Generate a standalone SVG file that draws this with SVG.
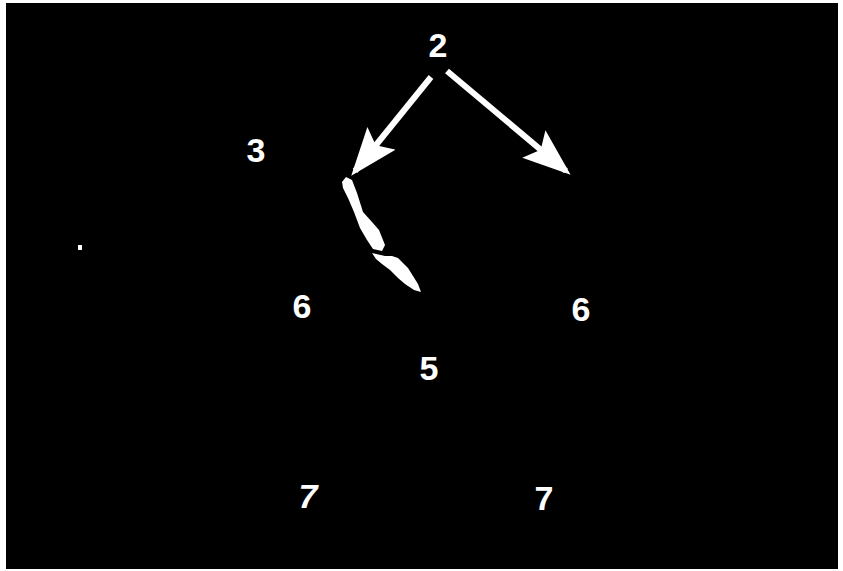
<svg xmlns="http://www.w3.org/2000/svg" width="843" height="571" viewBox="0 0 843 571">
<defs>
<style>
.lbl{font-family:"Liberation Sans",Arial,sans-serif;font-weight:bold;font-size:34px;fill:#fff;text-anchor:middle}
.shaft{stroke:#fff;stroke-width:6;fill:none}
</style>
<marker id="ah" markerWidth="8" markerHeight="6" refX="7" refY="3" orient="auto" markerUnits="strokeWidth">
<path d="M0,0 L8,3 L0,6 L1.5,3 Z" fill="#fff"/>
</marker>
</defs>
<rect x="0" y="0" width="843" height="571" fill="#fff"/>
<rect x="6" y="3" width="832" height="566" fill="#000"/>
<g id="connectors">
<line class="shaft" x1="431" y1="77" x2="355" y2="171" marker-end="url(#ah)"/>
<line class="shaft" x1="447" y1="71" x2="566" y2="171" marker-end="url(#ah)"/>
</g>
<g id="specimen">
<path d="M342,182 L346,177 L352,180 L357,193 L363,212 L372,222 L379,230 L385,245 L382,251 L373,249 L367,240 L360,228 L354,212 L348,198 L343,188 Z" fill="#fff"/>
<path d="M372,253 L385,256 L392,256 L398,258 L402,262 L408,268 L413,276 L418,284 L421,292 L414,290 L405,284 L398,278 L390,270 L382,264 L376,259 Z" fill="#fff"/>
<rect x="78" y="245" width="4" height="5" fill="#fff"/>
</g>
<g id="n2"><text class="lbl" x="438" y="57">2</text></g>
<g id="n3"><text class="lbl" x="256" y="162">3</text></g>
<g id="n6a"><text class="lbl" x="302" y="318">6</text></g>
<g id="n6b"><text class="lbl" x="581" y="321">6</text></g>
<g id="n5"><text class="lbl" x="429" y="380">5</text></g>
<g id="n7a"><text class="lbl" x="308" y="508" font-style="italic">7</text></g>
<g id="n7b"><text class="lbl" x="544" y="510">7</text></g>
</svg>
